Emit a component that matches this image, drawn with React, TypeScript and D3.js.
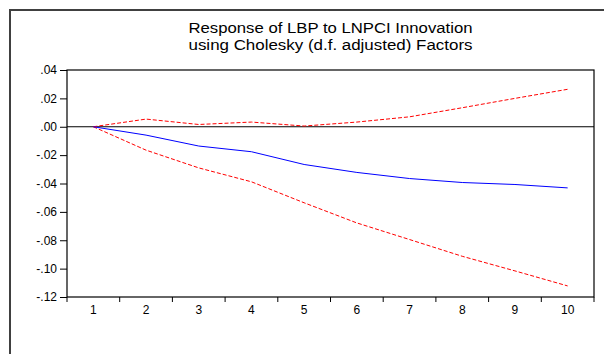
import React, { useEffect, useRef } from 'react';
import * as d3 from 'd3';

// impulse response, periods 1..10
const periods = [1, 2, 3, 4, 5, 6, 7, 8, 9, 10];
const response = [0.0, -0.0059, -0.0136, -0.0176, -0.0266, -0.0322, -0.0365, -0.0393, -0.0407, -0.0431];
const upperBand = [0.0, 0.0054, 0.0016, 0.0033, 0.0005, 0.0033, 0.007, 0.0134, 0.02, 0.0264];
const lowerBand = [0.0, -0.0165, -0.029, -0.0388, -0.0536, -0.0678, -0.0795, -0.0913, -0.1016, -0.1122];
const yTicks = [0.04, 0.02, 0.0, -0.02, -0.04, -0.06, -0.08, -0.1, -0.12];
const titleLines = ['Response of LBP to LNPCI Innovation', 'using Cholesky (d.f. adjusted) Factors'];

const fmt = (v: number) => {
  const s = Math.abs(v).toFixed(2).replace(/^0/, '');
  return v < -1e-9 ? '-' + s : s;
};

const FONT = 'Liberation Sans, Arial, sans-serif';

const ImpulseChart = () => {
  const ref = useRef<SVGSVGElement>(null);

  useEffect(() => {
    const W = 604, H = 354;
    const margin = { top: 70, right: 10, bottom: 57, left: 67 };
    const width = W - margin.left - margin.right;
    const height = H - margin.top - margin.bottom;

    const svg = d3.select(ref.current);
    svg.selectAll('*').remove();
    svg.attr('width', W).attr('height', H);

    // outer frame (runs off the right and bottom)
    svg.append('path')
      .attr('d', `M10,${H + 5}V10H${W + 5}`)
      .attr('fill', 'none')
      .attr('stroke', '#404040')
      .attr('stroke-width', 2);

    // title, the source is stretched sideways a bit
    titleLines.forEach((t, i) => {
      svg.append('text')
        .attr('x', margin.left + width / 2)
        .attr('y', 33 + i * 17)
        .attr('text-anchor', 'middle')
        .attr('font-family', FONT)
        .attr('font-size', 14)
        .attr('textLength', 284)
        .attr('lengthAdjust', 'spacingAndGlyphs')
        .text(t);
    });

    const g = svg.append('g').attr('transform', `translate(${margin.left},${margin.top})`);

    const xBand = d3.scaleBand<number>().domain(periods).range([0, width]);
    const x = (p: number) => (xBand(p) ?? 0) + xBand.bandwidth() / 2;
    const y = d3.scaleLinear().domain([-0.12, 0.04]).range([height, 0]);

    // y axis
    const yAxis = g.append('g')
      .call(d3.axisLeft(y).tickValues(yTicks).tickFormat(d => fmt(+d)).tickSize(7).tickPadding(3));
    yAxis.select('.domain').remove();
    yAxis.selectAll('text').attr('font-size', 12).attr('font-family', FONT).attr('fill', '#000');
    yAxis.selectAll('line').attr('stroke', '#000');

    // x axis: ticks at band edges, labels at centres
    const xAxis = g.append('g').attr('transform', `translate(0,${height})`);
    const edges = periods.map(p => xBand(p) ?? 0).concat([width]);
    xAxis.selectAll('line.tk').data(edges).enter().append('line')
      .attr('x1', d => d).attr('x2', d => d)
      .attr('y1', 0).attr('y2', 5)
      .attr('stroke', '#000');
    xAxis.selectAll('text').data(periods).enter().append('text')
      .attr('x', d => x(d))
      .attr('y', 17)
      .attr('text-anchor', 'middle')
      .attr('font-size', 12)
      .attr('font-family', FONT)
      .text(d => d);

    // plot border
    g.append('rect')
      .attr('width', width).attr('height', height)
      .attr('fill', 'none').attr('stroke', '#000').attr('stroke-width', 1.2);

    // zero line
    g.append('line')
      .attr('x1', 0).attr('x2', width)
      .attr('y1', y(0)).attr('y2', y(0))
      .attr('stroke', '#000');

    const line = d3.line<number>().x((_, i) => x(periods[i])).y(d => y(d));

    g.append('path').datum(upperBand).attr('d', line)
      .attr('fill', 'none').attr('stroke', '#ff0000').attr('stroke-dasharray', '4,2');
    g.append('path').datum(lowerBand).attr('d', line)
      .attr('fill', 'none').attr('stroke', '#ff0000').attr('stroke-dasharray', '4,2');
    g.append('path').datum(response).attr('d', line)
      .attr('fill', 'none').attr('stroke', '#0000ff');
  }, []);

  return <svg ref={ref} style={{ position: 'absolute', left: 0, top: 0 }}></svg>;
};

export default function App() {
  return <ImpulseChart />;
}
